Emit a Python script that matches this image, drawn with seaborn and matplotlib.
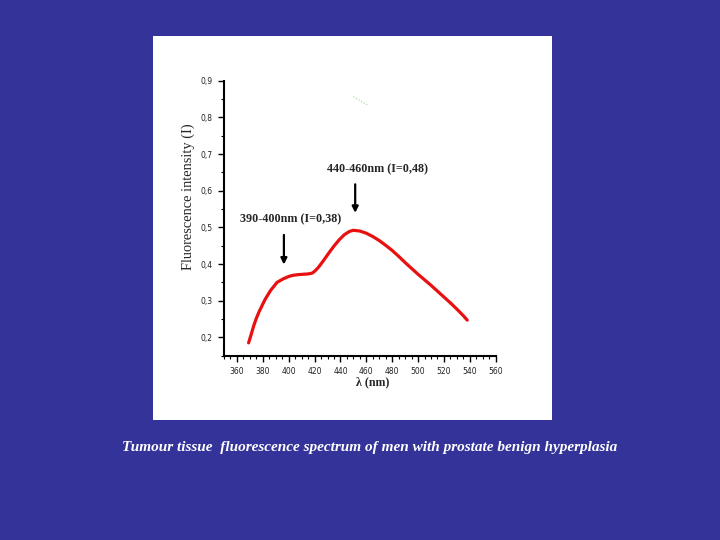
import numpy as np
import pandas as pd
import matplotlib
matplotlib.use("Agg")
import matplotlib.pyplot as plt
from matplotlib.ticker import MultipleLocator, FuncFormatter
import seaborn as sns

# --- Data ---
wavelength = [369, 371, 373, 375, 377, 380, 382, 386, 391, 396, 400, 403, 407, 411,
              415, 418, 420, 423, 427, 431, 435, 439, 443, 447, 450, 455, 460, 465, 470,
              475, 480, 485, 490, 495, 500, 505, 510, 515, 520, 525, 530, 535, 538]
intensity = [0.185, 0.208, 0.232, 0.252, 0.269, 0.291, 0.305, 0.328, 0.350, 0.360, 0.366,
             0.369, 0.371, 0.372, 0.373, 0.375, 0.380, 0.391, 0.410, 0.430, 0.449,
             0.466, 0.480, 0.489, 0.492, 0.490, 0.484, 0.475, 0.464, 0.451, 0.437, 0.421,
             0.404, 0.388, 0.372, 0.357, 0.342, 0.326, 0.310, 0.294, 0.277, 0.259, 0.247]

# faint green speck near the top of the plot
speck_x = [450, 455, 461]
speck_y = [0.856, 0.846, 0.834]

peak_labels = ['390-400nm (I=0,38)', '440-460nm (I=0,48)']
arrow_x = [396.3, 451.4]
arrow_top = [0.487, 0.625]
arrow_tip = [0.391, 0.532]
label_x = [401.8, 468.6]
label_y = [0.522, 0.658]

caption = 'Tumour tissue  fluorescence spectrum of men with prostate benign hyperplasia'

# --- Figure ---
sns.set_style("ticks")
plt.rcParams['font.family'] = ['DejaVu Sans']

fig = plt.figure(figsize=(7.2, 5.4), dpi=100)
fig.patch.set_facecolor('#333399')

# white slide panel behind the plot
panel = fig.add_axes([153 / 720, 1 - 420 / 540, (552 - 153) / 720, (420 - 36) / 540], zorder=0)
panel.set_facecolor('white')
panel.set_xticks([])
panel.set_yticks([])
for s in panel.spines.values():
    s.set_visible(False)

ax = fig.add_axes([224 / 720, 1 - 355.7 / 540, (495.7 - 224) / 720, (355.7 - 80.7) / 540],
                  zorder=1)
ax.set_facecolor('none')

df = pd.DataFrame({'wavelength': wavelength, 'intensity': intensity})
sns.lineplot(data=df, x='wavelength', y='intensity', color='#e81010', linewidth=2.3, ax=ax)
sns.lineplot(x=speck_x, y=speck_y, color='#9ed39e', linewidth=0.8, linestyle=':', ax=ax)

for i in range(2):
    ax.annotate('', xy=(arrow_x[i], arrow_tip[i]), xytext=(arrow_x[i], arrow_top[i]),
                arrowprops=dict(arrowstyle='-|>', color='black', lw=1.6, mutation_scale=9))
    ax.text(label_x[i], label_y[i], peak_labels[i], ha='center', va='center',
            fontsize=8.7, fontweight='bold', family='Liberation Serif')

ax.set_xlim(350, 560)
ax.set_ylim(0.15, 0.9)
ax.set_xticks(np.arange(360, 561, 20))
ax.set_yticks(np.arange(0.2, 0.91, 0.1))
ax.xaxis.set_minor_locator(MultipleLocator(5))
ax.yaxis.set_minor_locator(MultipleLocator(0.05))
ax.yaxis.set_major_formatter(FuncFormatter(lambda v, p: f'{v:.1f}'.replace('.', ',')))
ax.tick_params(axis='both', which='major', length=4, width=1, labelsize=5.5, color='black',
               pad=4, labelcolor='#222222')
ax.tick_params(axis='both', which='minor', length=2, width=0.8, color='black')

sns.despine(ax=ax)
for s in ['left', 'bottom']:
    ax.spines[s].set_linewidth(1.5)
    ax.spines[s].set_color('black')

ax.set_xlabel('λ (nm)', fontsize=8.6, fontweight='bold', family='Liberation Serif')
ax.set_ylabel('Fluorescence intensity (I)', fontsize=10.4, family='Liberation Serif')
ax.xaxis.set_label_coords(0.548, -0.098)
ax.yaxis.set_label_coords(-0.13, 0.577)
ax.xaxis.label.set_va('center')
ax.yaxis.label.set_va('center')

fig.text(370 / 720, 1 - 448 / 540, caption, ha='center', va='center', color='white',
         fontsize=11, style='italic', fontweight='bold', family='Liberation Serif')

plt.savefig('out.png', dpi=100, facecolor=fig.get_facecolor())
plt.close()
